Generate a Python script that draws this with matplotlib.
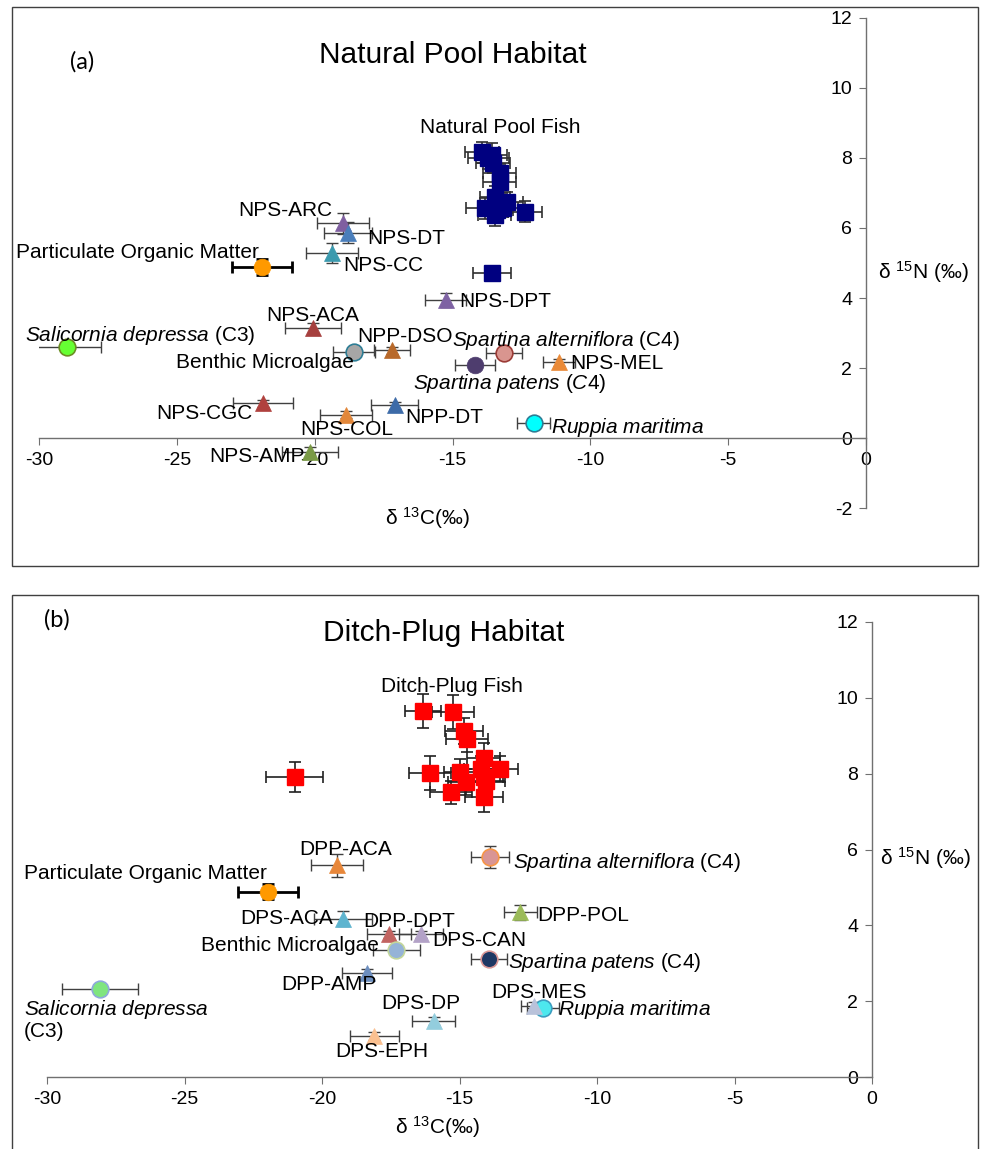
import matplotlib
matplotlib.use('Agg')
import matplotlib.pyplot as plt
from matplotlib.patches import Rectangle

plt.rcParams['font.family'] = ['Liberation Sans', 'DejaVu Sans']
plt.rcParams['mathtext.fontset'] = 'custom'
plt.rcParams['mathtext.rm'] = 'Liberation Sans'
plt.rcParams['mathtext.it'] = 'Liberation Sans:italic'
plt.rcParams['axes.unicode_minus'] = False

# ---------------- (a) Natural pool habitat ----------------
a_fish_c = [-13.93, -13.57, -13.70, -13.53, -13.28, -13.28, -13.46, -13.03,
            -13.82, -13.39, -13.17, -13.46, -12.37, -13.57]
a_fish_n = [8.17, 8.09, 8.00, 7.86, 7.57, 7.31, 6.89, 6.74,
            6.57, 6.51, 6.57, 6.37, 6.46, 4.71]
a_fish_c_sd = [0.60, 0.55, 0.75, 0.60, 0.60, 0.60, 0.55, 0.60,
               0.70, 0.60, 0.55, 0.60, 0.60, 0.69]
a_fish_n_sd = [0.30, 0.35, 0.30, 0.30, 0.25, 0.30, 0.30, 0.30,
               0.30, 0.30, 0.25, 0.30, 0.30, 0.18]

a_src = ['NPS-ARC', 'NPS-DT', 'Particulate Organic Matter', 'NPS-CC', 'NPS-DPT',
         'NPS-ACA', 'Salicornia depressa (C3)', 'NPP-DSO',
         'Spartina alterniflora (C4)', 'Benthic Microalgae', 'NPS-MEL',
         'Spartina patens (C4)', 'NPS-CGC', 'NPP-DT', 'Ruppia maritima',
         'NPS-COL', 'NPS-AMP']
a_src_c = [-18.97, -18.80, -21.91, -19.37, -15.24, -20.06, -28.98, -17.20,
           -13.13, -18.57, -11.14, -14.19, -21.88, -17.09, -12.05, -18.86, -20.17]
a_src_n = [6.14, 5.86, 4.89, 5.29, 3.94, 3.14, 2.60, 2.51,
           2.43, 2.46, 2.17, 2.09, 1.00, 0.94, 0.43, 0.66, -0.40]
a_src_c_sd = [0.95, 0.87, 1.10, 0.96, 0.74, 1.00, 1.23, 0.65,
              0.65, 0.75, 0.58, 0.72, 1.10, 0.85, 0.60, 0.95, 1.00]
a_src_n_sd = [0.30, 0.30, 0.22, 0.28, 0.20, 0.15, 0.10, 0.10,
              0.10, 0.10, 0.10, 0.10, 0.10, 0.10, 0.10, 0.10, 0.15]

# ---------------- (b) Ditch-plug habitat ----------------
b_fish_c = [-21.00, -16.33, -15.24, -14.84, -14.73, -14.11, -16.07, -14.98,
            -14.22, -13.53, -14.77, -14.11, -14.04, -15.31, -14.11]
b_fish_n = [7.91, 9.66, 9.63, 9.13, 8.91, 8.41, 8.02, 8.04,
            8.12, 8.12, 7.78, 7.91, 7.80, 7.51, 7.38]
b_fish_c_sd = [1.05, 0.65, 0.75, 0.70, 0.75, 0.60, 0.75, 0.60,
               0.60, 0.65, 0.65, 0.70, 0.70, 0.75, 0.70]
b_fish_n_sd = [0.40, 0.45, 0.45, 0.35, 0.35, 0.40, 0.45, 0.35,
               0.35, 0.35, 0.35, 0.35, 0.30, 0.30, 0.40]

b_src = ['DPP-ACA', 'Particulate Organic Matter', 'Spartina alterniflora (C4)',
         'DPS-ACA', 'DPP-DPT', 'DPP-POL', 'DPS-CAN', 'Benthic Microalgae',
         'Spartina patens (C4)', 'DPP-AMP', 'Ruppia maritima', 'DPS-MES',
         'Salicornia depressa (C3)', 'DPS-DP', 'DPS-EPH']
b_src_c = [-19.45, -21.98, -13.90, -19.23, -17.56, -12.80, -16.40, -17.30,
           -13.93, -18.36, -11.97, -12.30, -28.08, -15.93, -18.10]
b_src_n = [5.58, 4.89, 5.80, 4.18, 3.76, 4.34, 3.76, 3.36,
           3.10, 2.75, 1.83, 1.88, 2.33, 1.48, 1.08]
b_src_c_sd = [0.95, 1.09, 0.70, 1.05, 0.80, 0.60, 0.80, 0.85,
              0.67, 0.90, 0.58, 0.45, 1.38, 0.78, 0.90]
b_src_n_sd = [0.30, 0.20, 0.30, 0.20, 0.10, 0.20, 0.10, 0.10,
              0.10, 0.10, 0.10, 0.10, 0.10, 0.10, 0.10]

# display text (italics for species names), per panel
a_display = {
    'Salicornia depressa (C3)': r'$\mathit{Salicornia\ depressa}$ (C3)',
    'Spartina alterniflora (C4)': r'$\mathit{Spartina\ alterniflora}$ (C4)',
    'Spartina patens (C4)': r'$\mathit{Spartina\ patens\ (C4)}$',
    'Ruppia maritima': r'$\mathit{Ruppia\ maritima}$',
}
b_display = {
    'Salicornia depressa (C3)': r'$\mathit{Salicornia\ depressa}$' + '\n(C3)',
    'Spartina alterniflora (C4)': r'$\mathit{Spartina\ alterniflora}$ (C4)',
    'Spartina patens (C4)': r'$\mathit{Spartina\ patens}$ (C4)',
    'Ruppia maritima': r'$\mathit{Ruppia\ maritima}$',
}

# marker, face, edge for each source
a_style = [('^', '#7F5FA0', None), ('^', '#4A7EBB', None), ('o', '#FF9900', None),
           ('^', '#3B9AAE', None), ('^', '#7E62A3', None), ('^', '#A6403E', None),
           ('o', '#66FF33', '#6B8E23'), ('^', '#B8692A', None),
           ('o', '#D9958F', '#9B3B36'), ('o', '#A6A6A6', '#2E7D95'),
           ('^', '#EA8A38', None), ('o', '#4E3D6E', None), ('^', '#B0413E', None),
           ('^', '#3D6BA8', None), ('o', '#00FFFF', '#2E7D95'),
           ('^', '#E2873A', None), ('^', '#7A9A45', None)]
b_style = [('^', '#E8873A', None), ('o', '#FF9900', None), ('o', '#D99594', '#F79646'),
           ('^', '#5EB4CF', None), ('^', '#C26461', None), ('^', '#9BBB59', None),
           ('^', '#B3A2C7', None), ('o', '#95B3D7', '#C3D69B'),
           ('o', '#1F3864', '#D99594'), ('^', '#6C8EBF', None),
           ('o', '#4DE8EE', '#3C9DC0'), ('^', '#B9C2DA', None),
           ('o', '#7FE57F', '#8EA9DB'), ('^', '#93CDDD', None), ('^', '#FAC090', None)]

# label anchor (data coords), alignment
a_lab = [(-19.37, 6.51, 'right'), (-18.10, 5.71, 'left'), (-22.02, 5.31, 'right'),
         (-18.97, 4.94, 'left'), (-14.77, 3.89, 'left'), (-20.06, 3.51, 'center'),
         (-30.51, 2.94, 'left'), (-18.47, 2.89, 'left'), (-15.02, 2.80, 'left'),
         (-18.57, 2.17, 'right'), (-10.74, 2.14, 'left'), (-16.43, 1.57, 'left'),
         (-22.27, 0.71, 'right'), (-16.72, 0.60, 'left'), (-11.43, 0.31, 'left'),
         (-18.83, 0.23, 'center'), (-22.10, -0.54, 'center')]
b_lab = [(-19.13, 5.99, 'center'), (-22.00, 5.38, 'right'), (-13.05, 5.67, 'left'),
         (-19.60, 4.17, 'right'), (-18.51, 4.09, 'left'), (-12.18, 4.27, 'left'),
         (-16.00, 3.61, 'left'), (-17.93, 3.48, 'right'), (-13.24, 3.03, 'left'),
         (-19.75, 2.43, 'center'), (-11.42, 1.77, 'left'), (-12.11, 2.22, 'center'),
         (-30.84, 1.52, 'left'), (-16.40, 1.95, 'center'), (-17.82, 0.66, 'center')]

FS = 15


def draw_panel(ax, fish_c, fish_n, fish_csd, fish_nsd, fish_color, fish_ecol,
               src, c, n, csd, nsd, style, labels, display, ylim):
    ax.set_xlim(-30, 0)
    ax.set_ylim(*ylim)
    for s in ['top', 'right']:
        ax.spines[s].set_visible(False)
    ax.spines['left'].set_position(('data', 0))
    ax.spines['bottom'].set_position(('data', 0))
    for s in ['left', 'bottom']:
        ax.spines[s].set_color('#707070')
        ax.spines[s].set_linewidth(1.0)
    ax.set_xticks(range(-30, 1, 5))
    ax.set_yticks(range(int(ylim[0]), int(ylim[1]) + 1, 2))
    ax.tick_params(axis='both', labelsize=14, length=5, color='#707070', pad=5)
    ax.patch.set_visible(False)

    # source error bars then markers
    for i, name in enumerate(src):
        bold = name.startswith('Particulate')
        ax.errorbar(c[i], n[i], xerr=csd[i], yerr=nsd[i], fmt='none',
                    ecolor='black' if bold else '#404040',
                    elinewidth=2.0 if bold else 1.0,
                    capsize=4, capthick=2.0 if bold else 1.0, zorder=2)
    for i, name in enumerate(src):
        m, fc, ec = style[i]
        ax.plot(c[i], n[i], marker=m, linestyle='none', markersize=12,
                markerfacecolor=fc, markeredgecolor=ec if ec else fc,
                markeredgewidth=1.2 if ec else 0.5, zorder=3 + i * 0.01)
        x, y, ha = labels[i]
        ax.text(x, y, display.get(name, name), ha=ha, va='center',
                fontsize=FS, zorder=6, clip_on=False, linespacing=1.1)

    ax.errorbar(fish_c, fish_n, xerr=fish_csd, yerr=fish_nsd, fmt='none',
                ecolor=fish_ecol, elinewidth=1.2, capsize=4, capthick=1.2,
                zorder=4)
    ax.plot(fish_c, fish_n, marker='s', linestyle='none', markersize=11,
            markerfacecolor=fish_color, markeredgecolor=fish_color, zorder=5)


fig = plt.figure(figsize=(9.92, 11.49), dpi=100)
W, H = 992.0, 1149.0


def fr(px_left, px_top, px_right, px_bottom):
    return [px_left / W, 1 - px_bottom / H, (px_right - px_left) / W,
            (px_bottom - px_top) / H]


# panel frames
fig.patches.append(Rectangle((12 / W, 1 - 566 / H), 966 / W, 559 / H,
                             transform=fig.transFigure, fill=False,
                             edgecolor='#404040', linewidth=1.0))
fig.patches.append(Rectangle((12 / W, -0.02), 966 / W, 1 - 595 / H + 0.02,
                             transform=fig.transFigure, fill=False,
                             edgecolor='#404040', linewidth=1.0))

ax1 = fig.add_axes(fr(39, 18, 866, 508))
draw_panel(ax1, a_fish_c, a_fish_n, a_fish_c_sd, a_fish_n_sd, '#000080', '#303030',
           a_src, a_src_c, a_src_n, a_src_c_sd, a_src_n_sd, a_style, a_lab,
           a_display, (-2, 12))
ax1.text(-13.28, 8.86, 'Natural Pool Fish', ha='center', va='center', fontsize=FS)
ax1.text(-15.9, -2.3, 'δ $^{13}$C(‰)', ha='center', va='center', fontsize=FS,
         clip_on=False)
ax1.text(0.43, 4.74, 'δ $^{15}$N (‰)', ha='left', va='center', fontsize=FS,
         clip_on=False)
fig.text(453 / W, 1 - 55 / H, 'Natural Pool Habitat', ha='center', va='center',
         fontsize=21.5)
fig.text(82 / W, 1 - 62 / H, '(a)', ha='center', va='center', fontsize=17,
         family=['Lato', 'DejaVu Sans'])

ax2 = fig.add_axes(fr(47, 622, 872, 1077))
draw_panel(ax2, b_fish_c, b_fish_n, b_fish_c_sd, b_fish_n_sd, '#FF0000', '#202020',
           b_src, b_src_c, b_src_n, b_src_c_sd, b_src_n_sd, b_style, b_lab,
           b_display, (0, 12))
ax2.text(-15.27, 10.29, 'Ditch-Plug Fish', ha='center', va='center', fontsize=FS)
ax2.text(-15.8, -1.32, 'δ $^{13}$C(‰)', ha='center', va='center', fontsize=FS,
         clip_on=False)
ax2.text(0.3, 5.77, 'δ $^{15}$N (‰)', ha='left', va='center', fontsize=FS,
         clip_on=False)
fig.text(444 / W, 1 - 633 / H, 'Ditch-Plug Habitat', ha='center', va='center',
         fontsize=21.5)
fig.text(57 / W, 1 - 620 / H, '(b)', ha='center', va='center', fontsize=17,
         family=['Lato', 'DejaVu Sans'])

fig.savefig('out.png', dpi=100)
